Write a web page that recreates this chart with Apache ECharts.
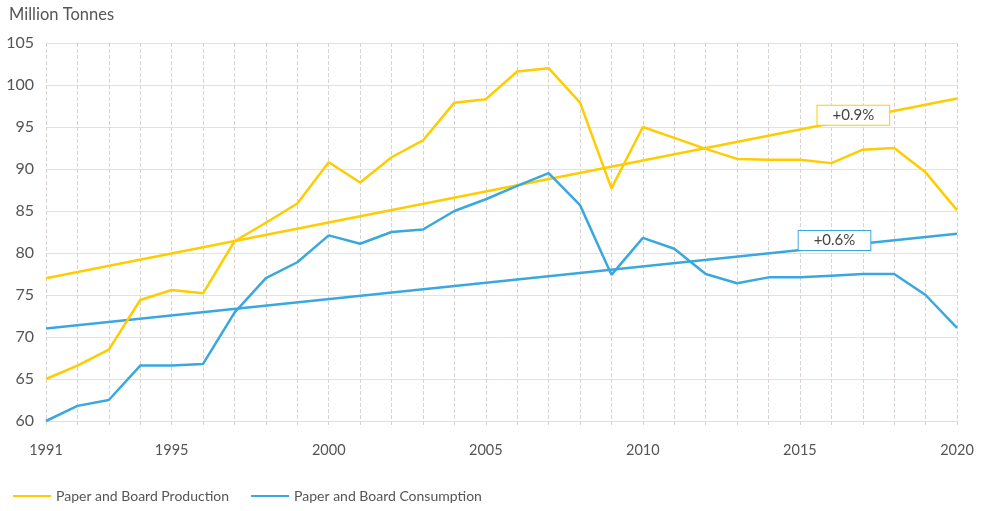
<!DOCTYPE html>
<html>
<head>
<meta charset="utf-8">
<script src="https://cdn.jsdelivr.net/npm/echarts@6/dist/echarts.min.js"></script>
<style>
  html, body { margin: 0; padding: 0; background: #fff; }
  #chart { width: 981px; height: 511px; }
</style>
</head>
<body>
<div id="chart"></div>
<script>
var years = [1991,1992,1993,1994,1995,1996,1997,1998,1999,2000,2001,2002,2003,2004,2005,2006,2007,2008,2009,2010,2011,2012,2013,2014,2015,2016,2017,2018,2019,2020];
var production = [65.0,66.6,68.5,74.4,75.6,75.2,81.4,83.6,85.9,90.8,88.4,91.4,93.4,97.9,98.3,101.6,102.0,97.9,87.7,95.0,93.7,92.4,91.2,91.1,91.1,90.7,92.3,92.5,89.6,85.1];
var consumption = [60.0,61.8,62.5,66.6,66.6,66.8,72.9,77.0,78.9,82.1,81.1,82.5,82.8,85.0,86.4,88.0,89.5,85.7,77.4,81.8,80.5,77.5,76.4,77.1,77.1,77.3,77.5,77.5,75.0,71.1];
// trend lines: start (1991) and end (2020)
var trendYears = [1991, 2020];
var productionTrend = [77.0, 98.4];
var consumptionTrend = [71.0, 82.3];
var yTicks = [60, 65, 70, 75, 80, 85, 90, 95, 100, 105];

var yellow = '#FFCC00';
var blue = '#3AA8E0';
var font = 'Lato';

function pairs(xs, ys) {
  return xs.map(function (x, i) { return [x, ys[i]]; });
}

function tag(text, color) {
  return {
    symbol: 'rect',
    symbolSize: 0,
    label: {
      show: true,
      position: 'inside',
      formatter: text,
      color: '#444',
      fontSize: 15,
      fontFamily: font,
      backgroundColor: '#fff',
      borderColor: color,
      borderWidth: 1,
      padding: [2, 15, 2, 15]
    }
  };
}

var chart = echarts.init(document.getElementById('chart'));
var prodTag = tag('+0.9%', yellow);
prodTag.data = [{ coord: [2016.7, 96.4] }];
var consTag = tag('+0.6%', blue);
consTag.data = [{ coord: [2016.1, 81.5] }];

chart.setOption({
  animation: false,
  textStyle: { fontFamily: font },
  title: {
    text: 'Million Tonnes',
    left: 4,
    top: 1,
    textStyle: { fontFamily: font, fontSize: 16.5, fontWeight: 'normal', color: '#555' }
  },
  legend: {
    data: ['Paper and Board Production', 'Paper and Board Consumption'],
    left: 8,
    bottom: 3,
    icon: 'rect',
    itemWidth: 38,
    itemHeight: 2,
    itemGap: 22,
    textStyle: { fontFamily: font, fontSize: 14, color: '#555' }
  },
  grid: { left: 46, right: 24, top: 43, bottom: 90 },
  xAxis: {
    type: 'value',
    min: years[0],
    max: years[years.length - 1],
    interval: 1,
    axisLine: { show: true, lineStyle: { color: '#e3dedb', width: 1 } },
    axisTick: { show: true, length: 5, lineStyle: { color: '#d8d3cf', type: 'dashed' } },
    axisLabel: {
      margin: 22,
      fontSize: 14.5,
      color: '#555',
      fontFamily: font,
      formatter: function (v) { return (v === years[0] || v % 5 === 0) ? String(v) : ''; }
    },
    splitLine: { show: true, lineStyle: { color: '#d8d3cf', type: 'dashed', width: 1 } }
  },
  yAxis: {
    type: 'value',
    min: yTicks[0],
    max: yTicks[yTicks.length - 1],
    interval: 5,
    axisLine: { show: false },
    axisTick: { show: false },
    axisLabel: { fontSize: 16, color: '#555', margin: 12, fontFamily: font },
    splitLine: { lineStyle: { color: '#e6e1de', width: 1 } }
  },
  series: [
    {
      name: 'Paper and Board Production',
      type: 'line',
      data: pairs(years, production),
      symbol: 'none',
      lineStyle: { color: yellow, width: 2.5 },
      itemStyle: { color: yellow },
      z: 3
    },
    {
      name: 'Paper and Board Consumption',
      type: 'line',
      data: pairs(years, consumption),
      symbol: 'none',
      lineStyle: { color: blue, width: 2.5 },
      itemStyle: { color: blue },
      z: 3
    },
    {
      name: 'Production trend',
      type: 'line',
      data: pairs(trendYears, productionTrend),
      symbol: 'none',
      lineStyle: { color: yellow, width: 2.5 },
      itemStyle: { color: yellow },
      z: 2,
      markPoint: prodTag
    },
    {
      name: 'Consumption trend',
      type: 'line',
      data: pairs(trendYears, consumptionTrend),
      symbol: 'none',
      lineStyle: { color: blue, width: 2.5 },
      itemStyle: { color: blue },
      z: 2,
      markPoint: consTag
    }
  ]
});
</script>
</body>
</html>
